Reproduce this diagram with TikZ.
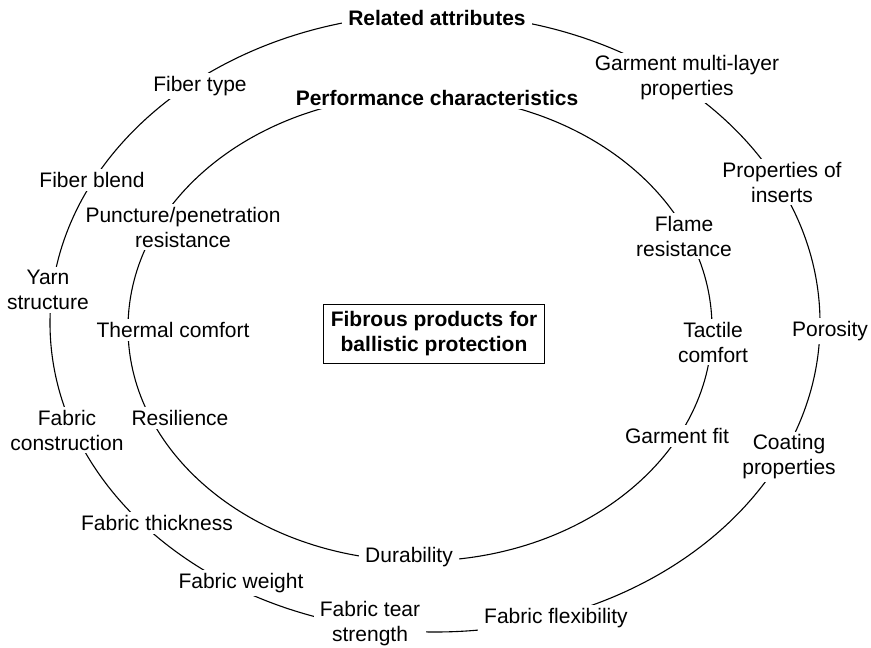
\documentclass[tikz,border=0pt]{standalone}
\usepackage{fontspec}
\setmainfont{Liberation Sans}
\usepackage{tikz}

\begin{document}
\begin{tikzpicture}[x=0.5pt,y=-0.5pt,line width=0.55pt,
		every node/.style={font=\fontsize{10.5}{12.5}\selectfont},
		attr/.style={fill=white,inner xsep=3pt,inner ysep=1.5pt,align=center},
		head/.style={attr,font=\fontsize{10.5}{12.5}\selectfont\bfseries},
		product/.style={draw,fill=white,inner sep=3.5pt,align=center,font=\fontsize{10.5}{12.5}\selectfont\bfseries}]
		\useasboundingbox (0,0) rectangle (871,647);

		% outer ring: related attributes, inner ring: performance
		\draw (435,323) ellipse [x radius=385, y radius=309];
		\draw (420,328) ellipse [x radius=292, y radius=233];

		\node[head] (a0) at (437,18) {Related attributes};
		\node[attr] (a1) at (200,86) {Fiber type};
		\node[attr] (a2) at (92,180) {Fiber blend};
		\node[attr] (a3) at (48,290) {Yarn\\structure};
		\node[attr] (a4) at (67,430) {Fabric\\construction};
		\node[attr] (a5) at (157,523) {Fabric thickness};
		\node[attr] (a6) at (241,583) {Fabric weight};
		\node[attr] (a7) at (370,624) {Fabric tear\\strength};
		\node[attr] (a8) at (556,618) {Fabric flexibility};
		\node[attr] (a9) at (789,457) {Coating\\properties};
		\node[attr] (a10) at (830,331) {Porosity};
		\node[attr] (a11) at (782,182) {Properties of\\inserts};
		\node[attr] (a12) at (687,78) {Garment multi-layer\\properties};

		\node[head] (p0) at (437,98) {Performance characteristics};
		\node[attr] (p1) at (183,227) {Puncture/penetration\\resistance};
		\node[attr] (p2) at (173,330) {Thermal comfort};
		\node[attr] (p3) at (180,418) {Resilience};
		\node[attr] (p4) at (409,557) {Durability};
		\node[attr] (p5) at (677,436) {Garment fit};
		\node[attr] (p6) at (713,342) {Tactile\\comfort};
		\node[attr] (p7) at (684,236) {Flame\\resistance};

		\node[product] (fp) at (434,334) {Fibrous products for\\ballistic protection};
		\end{tikzpicture}
\end{document}
